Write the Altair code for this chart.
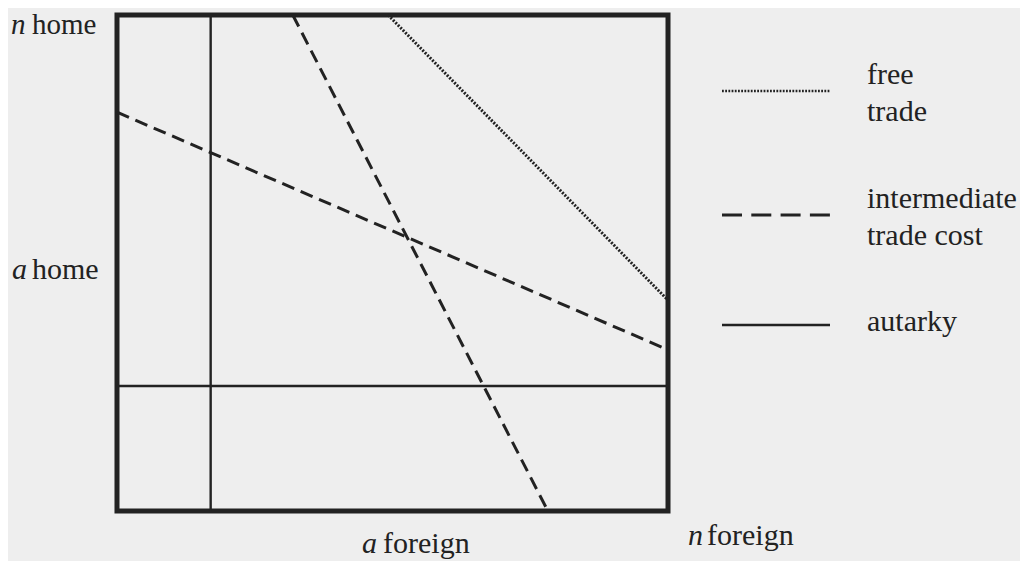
import altair as alt
import pandas as pd

# ---- data (box spans 0..10 on both axes) ----
seg_names = ["autarky_v", "autarky_h", "cost_a", "cost_b", "free"]
seg_x1 = [1.7, 0.0, 0.0, 3.19, 4.92]
seg_y1 = [0.0, 2.52, 8.04, 10.0, 10.0]
seg_x2 = [1.7, 10.0, 10.0, 7.82, 10.0]
seg_y2 = [10.0, 2.52, 3.25, 0.0, 4.25]
seg_kind = ["autarky", "autarky", "intermediate", "intermediate", "free"]

segs = pd.DataFrame({"name": seg_names, "x1": seg_x1, "y1": seg_y1,
                     "x2": seg_x2, "y2": seg_y2, "kind": seg_kind})

legend_labels = [["free", "trade"], ["intermediate", "trade cost"], ["autarky"]]

W, H = 1012, 553
xs = alt.Scale(domain=[-1.978, 16.388], nice=False, zero=False)
ys = alt.Scale(domain=[-1.008, 10.141], nice=False, zero=False)
FONT = "Liberation Serif"
INK = "#222222"
FS = 30


def seg_layer(kind, **style):
    return alt.Chart(segs).transform_filter(alt.datum.kind == kind).mark_rule(**style).encode(
        x=alt.X("x1:Q", scale=xs, axis=None),
        y=alt.Y("y1:Q", scale=ys, axis=None),
        x2="x2:Q", y2="y2:Q")


frame = alt.Chart(pd.DataFrame({"a": [0.0], "b": [10.0]})).mark_rect(
    fill=None, stroke=INK, strokeWidth=5).encode(
    x=alt.X("a:Q", scale=xs, axis=None), x2="b:Q",
    y=alt.Y("a:Q", scale=ys, axis=None), y2="b:Q")

aut = seg_layer("autarky", color=INK, strokeWidth=2.4)
inter = seg_layer("intermediate", color=INK, strokeWidth=3, strokeDash=[13, 7])
free = seg_layer("free", color=INK, strokeWidth=3, strokeDash=[2, 1.5])


def txt(s, x, y, italic=False, size=FS):
    return alt.Chart(pd.DataFrame({"t": [s]})).mark_text(
        font=FONT, fontSize=size, color=INK, align="left", baseline="alphabetic",
        fontStyle="italic" if italic else "normal").encode(
        text="t:N", x=alt.value(x - 8), y=alt.value(y - 8))


def sample(y, **style):
    return alt.Chart(pd.DataFrame({"k": [0]})).mark_rule(color=INK, **style).encode(
        x=alt.value(722 - 8), x2=alt.value(830 - 8), y=alt.value(y - 8))


texts = [
    txt("n", 11, 34, italic=True, size=29), txt("home", 32, 34, size=29),
    txt("a", 12, 279, italic=True), txt("home", 32, 279),
    txt("a", 362, 553, italic=True), txt("foreign", 383, 553),
    txt("n", 688, 545, italic=True), txt("foreign", 707, 545),
    txt(legend_labels[0][0], 867, 84), txt(legend_labels[0][1], 867, 121),
    txt(legend_labels[1][0], 867, 208), txt(legend_labels[1][1], 867, 245),
    txt(legend_labels[2][0], 867, 331),
]

samples = [
    sample(91, strokeWidth=2.6, strokeDash=[1.8, 1.4]),
    sample(215, strokeWidth=3, strokeDash=[20, 9.3]),
    sample(325, strokeWidth=2.4),
]

chart = alt.layer(frame, aut, inter, free, *samples, *texts).properties(
    width=W, height=H, padding=0, background="#eeeeee",
    autosize=alt.AutoSizeParams(type="fit", contains="padding"),
).configure_view(stroke=None)

chart.save("out.html", embed_options={"renderer": "svg", "actions": False})
